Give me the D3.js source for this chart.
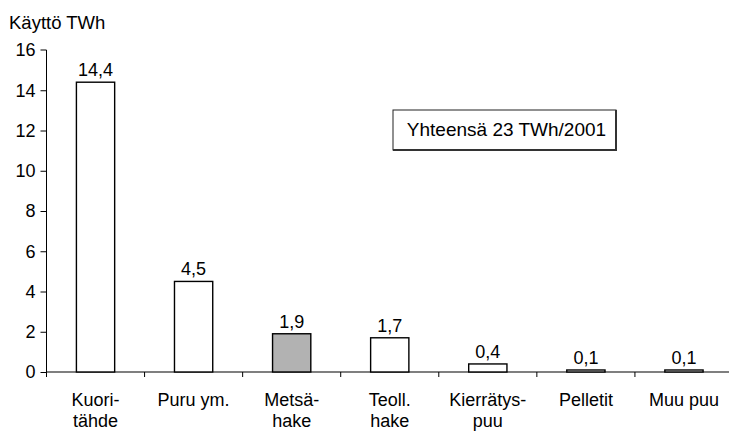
<!DOCTYPE html>
<html>
<head>
<meta charset="utf-8">
<script src="https://cdn.jsdelivr.net/npm/d3@7"></script>
<style>
  html, body { margin: 0; padding: 0; background: #fff; }
  svg { display: block; font-family: "Liberation Sans", Arial, sans-serif; }
</style>
</head>
<body>
<svg id="chart" width="729" height="431"></svg>
<script>
// Wood fuel use by type, TWh
const categories = [["Kuori-", "tähde"], ["Puru ym."], ["Metsä-", "hake"], ["Teoll.", "hake"], ["Kierrätys-", "puu"], ["Pelletit"], ["Muu puu"]];
const values = [14.4, 4.5, 1.9, 1.7, 0.4, 0.1, 0.1];
const valueLabels = ["14,4", "4,5", "1,9", "1,7", "0,4", "0,1", "0,1"];
const highlighted = [false, false, true, false, false, false, false];
const yTicks = [0, 2, 4, 6, 8, 10, 12, 14, 16];
const axisTitle = "Käyttö TWh";
const totalNote = "Yhteensä 23 TWh/2001";

const svg = d3.select("#chart");
const plotLeft = 46.5, plotRight = 733, plotTop = 50, plotBottom = 372;
const fontSize = 18;

const x = d3.scaleBand()
  .domain(d3.range(categories.length))
  .range([plotLeft, plotRight])
  .paddingInner(0.61)
  .paddingOuter(0.305);

const y = d3.scaleLinear().domain([0, 16]).range([plotBottom, plotTop]);

// Y axis
const yAxis = svg.append("g")
  .attr("transform", `translate(${plotLeft},0)`)
  .call(d3.axisLeft(y).tickValues(yTicks).tickSize(6).tickPadding(5).tickFormat(d3.format("d")));
yAxis.select(".domain").attr("d", `M-6,${plotTop}H0V${plotBottom}`).attr("stroke", "#000");
yAxis.selectAll(".tick line").attr("stroke", "#000");
yAxis.selectAll(".tick text").attr("font-size", fontSize).attr("fill", "#000")
  .attr("font-family", "Liberation Sans, Arial, sans-serif");
yAxis.selectAll(".tick").filter(d => d === 16).select("line").remove();

// X axis baseline with category separators
const step = x.step();
const xg = svg.append("g");
xg.append("line").attr("x1", plotLeft).attr("x2", plotRight).attr("y1", plotBottom).attr("y2", plotBottom)
  .attr("stroke", "#000").attr("stroke-width", 1.2);
xg.selectAll("line.sep")
  .data(d3.range(categories.length + 1))
  .join("line")
  .attr("class", "sep")
  .attr("x1", i => plotLeft + i * step).attr("x2", i => plotLeft + i * step)
  .attr("y1", plotBottom).attr("y2", plotBottom + 5)
  .attr("stroke", "#000");

// Bars
svg.append("g").selectAll("rect")
  .data(values)
  .join("rect")
  .attr("x", (d, i) => x(i))
  .attr("width", x.bandwidth())
  .attr("y", d => y(d))
  .attr("height", d => y(0) - y(d))
  .attr("fill", (d, i) => highlighted[i] ? "#b2b2b2" : "#fff")
  .attr("stroke", "#000")
  .attr("stroke-width", 1.4);

// Value labels
svg.append("g").selectAll("text")
  .data(values)
  .join("text")
  .attr("x", (d, i) => x(i) + x.bandwidth() / 2)
  .attr("y", d => y(d) - 6)
  .attr("text-anchor", "middle")
  .attr("font-size", fontSize)
  .text((d, i) => valueLabels[i]);

// Category labels
const catG = svg.append("g").selectAll("text")
  .data(categories)
  .join("text")
  .attr("x", (d, i) => x(i) + x.bandwidth() / 2)
  .attr("y", 406)
  .attr("text-anchor", "middle")
  .attr("font-size", fontSize);
catG.selectAll("tspan")
  .data((d, i) => d.map(line => ({ line, i })))
  .join("tspan")
  .attr("x", d => x(d.i) + x.bandwidth() / 2)
  .attr("dy", (d, j) => j === 0 ? 0 : 21)
  .text(d => d.line);

// Axis title
svg.append("text").attr("x", 9).attr("y", 29).attr("font-size", 18.5).text(axisTitle);

// Total note box: light top/left border, heavier right/bottom edge
const note = svg.append("g");
const bx = 393, by = 110, bw = 223, bh = 40;
note.append("rect").attr("x", bx).attr("y", by).attr("width", bw).attr("height", bh)
  .attr("fill", "#fff").attr("stroke", "#222").attr("stroke-width", 1);
note.append("path").attr("d", `M${bx + bw},${by}V${by + bh}H${bx}`)
  .attr("fill", "none").attr("stroke", "#333").attr("stroke-width", 2);
note.append("text").attr("x", bx + bw / 2 + 2).attr("y", by + 26).attr("text-anchor", "middle")
  .attr("font-size", 19).text(totalNote);
</script>
</body>
</html>
